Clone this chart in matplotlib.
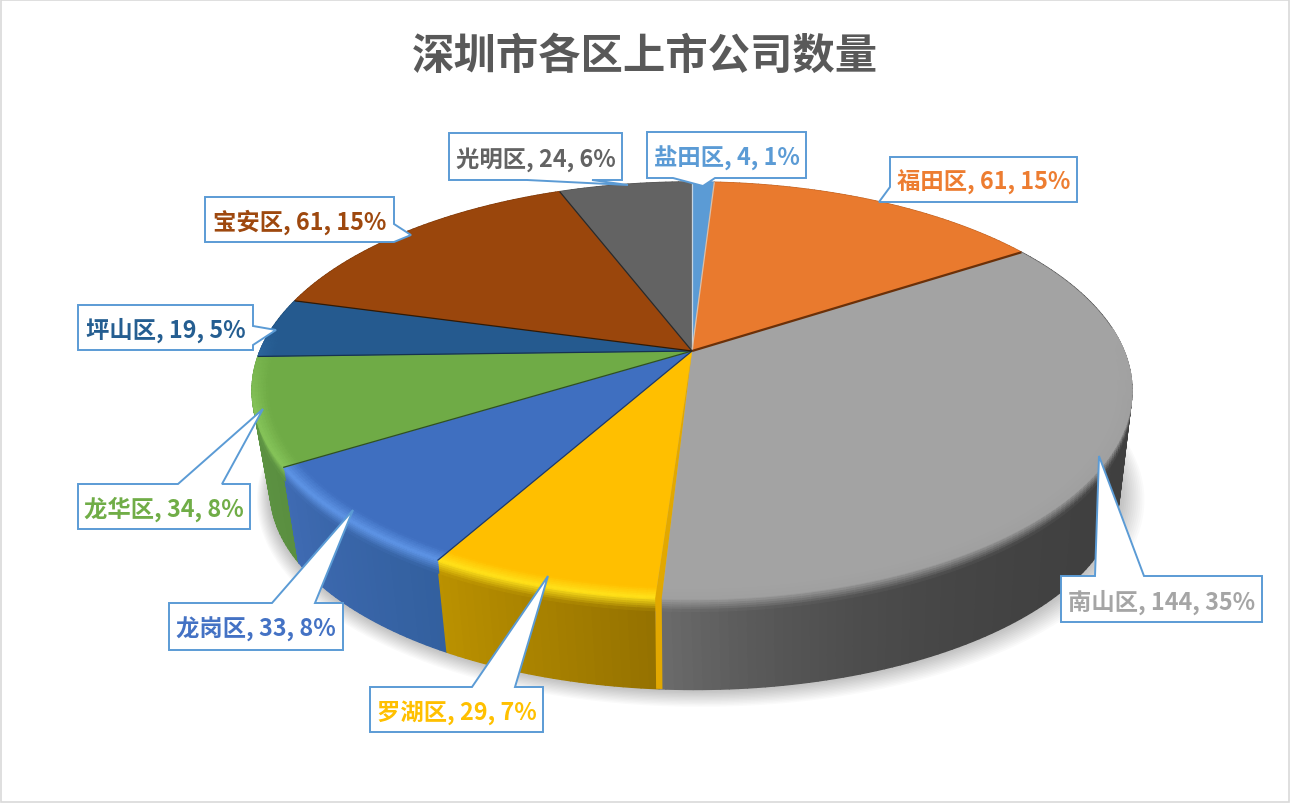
import numpy as np
import matplotlib
matplotlib.use('Agg')
import matplotlib.pyplot as plt
from matplotlib.collections import PolyCollection
from matplotlib.colors import to_rgb
from matplotlib.patches import Rectangle, Polygon

plt.rcParams['font.family'] = ['Noto Sans CJK SC', 'DejaVu Sans']

# data
districts = ['盐田区', '福田区', '南山区', '罗湖区', '龙岗区', '龙华区', '坪山区', '宝安区', '光明区']
companies = [4, 61, 144, 29, 33, 34, 19, 61, 24]
title = '深圳市各区上市公司数量'

# colours per slice
label_colors = ['#5B9BD5', '#ED7D31', '#A5A5A5', '#FFC000', '#4472C4', '#70AD47', '#255E91', '#9E480E', '#636363']
top_colors = ['#5B9BD5', '#E97A2E', '#A3A3A3', '#FFBF00', '#3F6FC0', '#6FAB46', '#255A8F', '#9A460C', '#636363']
side_start = ['#4a7fb0', '#b85f22', '#3f3f3f', '#957200', '#33609f', '#5a8f40', '#1d4a73', '#7a380b', '#4d4d4d']
side_end = ['#4a7fb0', '#b85f22', '#6c6c6c', '#bb9100', '#3f6bb3', '#5f9645', '#1d4a73', '#7a380b', '#4d4d4d']
glow = ['#7fb6e8', '#f59a5a', '#A0A0A0', '#ffe21a', '#5f95e6', '#86c45a', '#3a7ab5', '#b85a18', '#808080']
sep_colors = ['#c3d4e4', '#d9c0ac', '#6b3008', '#E2A800', '#1f3a68', '#2f4f24', '#16324f', '#2e1a08', '#2a2a2a']

# callouts: box (left, top, right, bottom), side of the pointer, pointer base, tip
boxes = [(647, 133, 806, 179), (890, 158, 1077, 203), (1061, 577, 1262, 623),
         (370, 688, 543, 733), (169, 604, 343, 651), (78, 485, 250, 530),
         (78, 306, 253, 351), (205, 198, 394, 243), (449, 134, 622, 181)]
sides = ['bottom', 'left', 'top', 'top', 'top', 'top', 'right', 'right', 'bottom']
bases = [(673, 715), (188, 203), (1095, 1144), (472, 515), (272, 315), (178, 222), (327, 346), (225, 243), (527, 592)]
tips = [(703, 187), (879, 203), (1099, 457), (548, 577), (353, 511), (263, 410), (276, 331), (411, 236), (628, 186)]


def project(th, r=1.0, z=0.0):
    # th in degrees clockwise from top, z=0 top of disc, z=1 bottom of disc
    t = np.radians(th)
    u = r * np.sin(t)
    v = r * np.cos(t)
    A = 432 - 16 * z
    a = 201 - 11 * z
    y0 = 352 + 101 * z
    b = 0.189 + 0.011 * z
    d = 1 + b * v
    return 692 + 3 * z + A * u / d, y0 - a * v / d


def mix(c1, c2, k):
    c1 = np.array(to_rgb(c1))
    c2 = np.array(to_rgb(c2))
    return tuple(c1 + (c2 - c1) * k)


total = sum(companies)
edges = np.concatenate([[0], np.cumsum(companies)]) / total * 360

fig, ax = plt.subplots(figsize=(12.9, 8.04), dpi=100)
ax.set_position([0, 0, 1, 1])
ax.set_xlim(0, 1290)
ax.set_ylim(804, 0)
ax.axis('off')
ax.add_patch(Rectangle((1, 1), 1288, 802, fc='white', ec='#D9D9D9', lw=1.2, zorder=0))

# soft shadow under the pie
ring = np.arange(0, 360, 2)
bx, by = project(ring, 1.0, 1.0)
for s in np.arange(1, 20, 1.5):
    px = 695 + (bx - 695) * (1 + s / 420) + s * 0.3
    py = 453 + (by - 453) * (1 + s / 420) + s * 0.35
    ax.add_patch(Polygon(np.c_[px, py], fc='black', ec='none', alpha=0.018, zorder=1))

# side wall, back to front
quads = []
quad_colors = []
order = []
for i in range(len(companies)):
    ths = np.arange(edges[i], edges[i + 1] + 0.01, 1.0)
    if ths[-1] < edges[i + 1]:
        ths = np.append(ths, edges[i + 1])
    for j in range(len(ths) - 1):
        k = j / max(len(ths) - 2, 1)
        if i == 2:
            k = k ** 6
        x1, y1 = project(ths[j], 1, 0)
        x2, y2 = project(ths[j + 1], 1, 0)
        x3, y3 = project(ths[j + 1], 1, 1)
        x4, y4 = project(ths[j], 1, 1)
        quads.append([(x1, y1), (x2, y2), (x3, y3), (x4, y4)])
        quad_colors.append(mix(side_start[i], side_end[i], k))
        order.append(np.cos(np.radians(ths[j])))
idx = np.argsort(order)[::-1]
quads = [quads[q] for q in idx]
quad_colors = [quad_colors[q] for q in idx]
ax.add_collection(PolyCollection(quads, facecolors=quad_colors, edgecolors=quad_colors, linewidths=1.0, zorder=2))

# flat top of each slice
inner = 0.965
for i in range(len(companies)):
    end = edges[i + 1] - 0.7 if i == 2 else edges[i + 1]
    ths = np.linspace(edges[i], end, 200)
    tx, ty = project(ths, 1.0, 0)
    ax.fill(np.r_[692, tx], np.r_[352, ty], color=top_colors[i], lw=0.3, zorder=3)

# gold sliver where the grey slice meets the yellow one
sl = np.array([edges[3] - 0.7, edges[3]])
x1, y1 = project(sl, 1, 0)
x2, y2 = project(sl, 1, 1)
x2 = x2 - 3
ax.fill([692, x1[0], x2[0], x2[1], x1[1]], [352, y1[0], y2[0], y2[1], y1[1]], color='#E2A800', lw=0, zorder=4.5)

# bevel along the front of the rim, wall part goes under the flat top
top_q = []
top_c = []
wall_q = []
wall_c = []
n_band = 6
for i in range(len(companies)):
    end = edges[i + 1] - 0.7 if i == 2 else edges[i + 1]
    ths = np.linspace(edges[i], end, max(int(end - edges[i]), 2))
    for j in range(len(ths) - 1):
        th = (ths[j] + ths[j + 1]) / 2
        v = np.cos(np.radians(th))
        s = np.clip((0.12 - v) / 0.4, 0, 1)
        if s <= 0:
            continue
        # same side colour as the wall at this angle
        k = (th - edges[i]) / (edges[i + 1] - edges[i])
        if i == 2:
            k = k ** 6
        side = mix(side_start[i], side_end[i], k)
        for b in range(n_band):
            r1 = 1 - (1 - inner) * (1 - b / n_band)
            r2 = 1 - (1 - inner) * (1 - (b + 1) / n_band)
            c = mix(top_colors[i], mix(top_colors[i], glow[i], s), (b + 0.5) / n_band)
            x1, y1 = project(ths[j], r1, 0)
            x2, y2 = project(ths[j + 1], r1, 0)
            x3, y3 = project(ths[j + 1], r2, 0)
            x4, y4 = project(ths[j], r2, 0)
            top_q.append([(x1, y1), (x2, y2), (x3, y3), (x4, y4)])
            top_c.append(c)
            z1 = 0.14 * b / n_band
            z2 = 0.14 * (b + 1) / n_band
            c = mix(mix(top_colors[i], glow[i], s), side, (b + 0.5) / n_band)
            x1, y1 = project(ths[j], 1, z1)
            x2, y2 = project(ths[j + 1], 1, z1)
            x3, y3 = project(ths[j + 1], 1, z2)
            x4, y4 = project(ths[j], 1, z2)
            wall_q.append([(x1, y1), (x2, y2), (x3, y3), (x4, y4)])
            wall_c.append(c)
ax.add_collection(PolyCollection(wall_q, facecolors=wall_c, edgecolors=wall_c, linewidths=0.8, zorder=2.5))
ax.add_collection(PolyCollection(top_q, facecolors=top_c, edgecolors=top_c, linewidths=0.8, zorder=4))

# separators between slices
for i in range(len(companies)):
    if i == 3:
        continue
    ex, ey = project(edges[i], 1.0, 0)
    ax.plot([692, ex], [352, ey], color=sep_colors[i], lw=1.6 if i == 2 else 0.9, zorder=5, solid_capstyle='butt')

# callouts and labels
for i, name in enumerate(districts):
    l, t, r, b = boxes[i]
    p, q = bases[i]
    if sides[i] == 'top':
        pts = [(l, t), (p, t), tips[i], (q, t), (r, t), (r, b), (l, b)]
    elif sides[i] == 'bottom':
        pts = [(l, t), (r, t), (r, b), (q, b), tips[i], (p, b), (l, b)]
    elif sides[i] == 'left':
        pts = [(l, t), (r, t), (r, b), (l, b), tips[i], (l, p)]
    else:
        pts = [(l, t), (r, t), (r, p), tips[i], (r, q), (r, b), (l, b)]
    ax.add_patch(Polygon(pts, closed=True, fc='white', ec='#5B9BD5', lw=1.4, joinstyle='miter', zorder=6))
    pct = round(companies[i] / total * 100)
    ax.text((l + r) / 2, (t + b) / 2 + 2, f'{name}, {companies[i]}, {pct}%', color=label_colors[i],
            fontsize=16.8, fontweight='bold', ha='center', va='center', zorder=7)

ax.text(645, 57, title, color='#595959', fontsize=30.5, fontweight='bold', ha='center', va='center', zorder=7)

fig.savefig('out.png', dpi=100)
